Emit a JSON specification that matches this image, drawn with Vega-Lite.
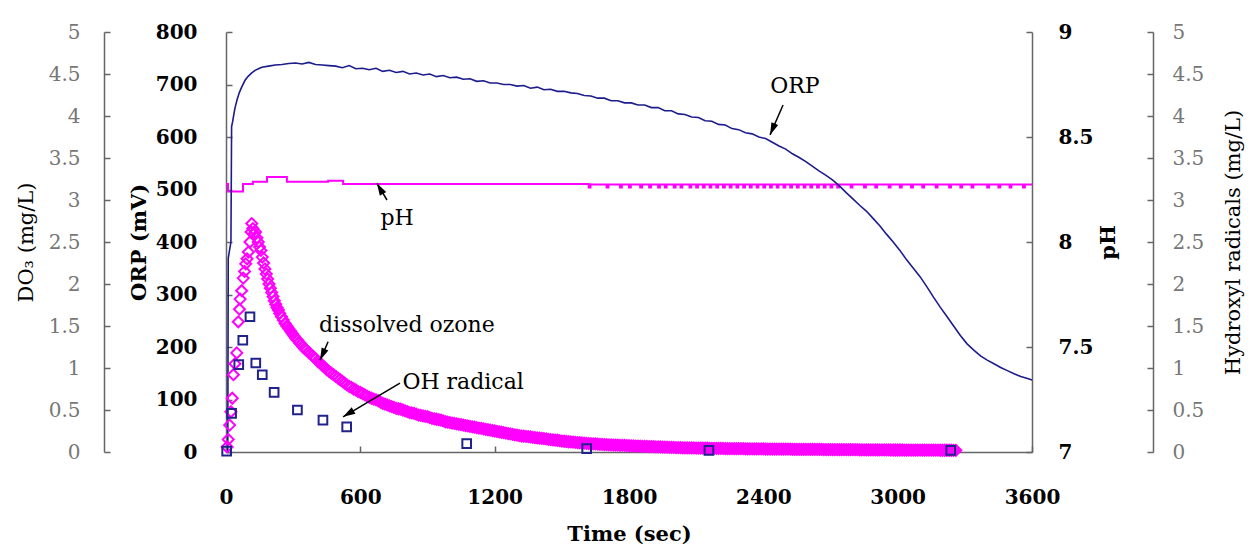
{
  "$schema": "https://vega.github.io/schema/vega-lite/v6.json",
  "width": 806,
  "height": 420,
  "autosize": {"type": "none"},
  "padding": {"left": 226, "top": 32, "right": 217, "bottom": 99},
  "background": "white",
  "config": {
    "view": {"stroke": null},
    "axis": {"grid": false, "labelFont": "DejaVu Serif", "titleFont": "DejaVu Serif", "domainColor": "#666", "tickColor": "#666", "domainWidth": 1.5, "tickWidth": 1.5, "labelColor": "black", "titleColor": "black", "labelFlush": false}
  },
  "datasets": {
    "orp": [
      {"t":0,"mv":0},{"t":8,"mv":0},{"t":10,"mv":369},{"t":22,"mv":400},{"t":25,"mv":620},{"t":30,"mv":630},{"t":35,"mv":643},{"t":40,"mv":655},{"t":50,"mv":672},{"t":60,"mv":685},{"t":70,"mv":695},{"t":85,"mv":708},{"t":100,"mv":716},{"t":115,"mv":722},{"t":130,"mv":727},{"t":145,"mv":730},{"t":160,"mv":733},{"t":190,"mv":735},{"t":220,"mv":737},{"t":250,"mv":738},{"t":280,"mv":740},{"t":310,"mv":741},{"t":340,"mv":739},{"t":370,"mv":742},{"t":400,"mv":738},{"t":430,"mv":737},{"t":460,"mv":736},
      {"t":490,"mv":735},{"t":520,"mv":732},{"t":550,"mv":736},{"t":580,"mv":730},{"t":610,"mv":731},{"t":640,"mv":728},{"t":670,"mv":731},{"t":700,"mv":725},{"t":730,"mv":727},{"t":760,"mv":723},{"t":790,"mv":725},{"t":820,"mv":720},{"t":850,"mv":722},{"t":880,"mv":718},{"t":910,"mv":720},{"t":940,"mv":715},{"t":970,"mv":717},{"t":1000,"mv":713},{"t":1030,"mv":714},{"t":1060,"mv":710},{"t":1090,"mv":711},{"t":1120,"mv":706},{"t":1150,"mv":707},{"t":1180,"mv":703},{"t":1210,"mv":703},{"t":1240,"mv":700},{"t":1270,"mv":700},{"t":1300,"mv":697},{"t":1330,"mv":698},{"t":1360,"mv":693},{"t":1390,"mv":695},{"t":1420,"mv":690},{"t":1450,"mv":691},{"t":1480,"mv":687},{"t":1510,"mv":687},{"t":1540,"mv":684},{"t":1570,"mv":683},{"t":1600,"mv":679},{"t":1630,"mv":678},{"t":1660,"mv":674},{"t":1690,"mv":674},{"t":1720,"mv":669},{"t":1750,"mv":669},{"t":1780,"mv":665},{"t":1810,"mv":665},{"t":1840,"mv":661},{"t":1870,"mv":661},{"t":1900,"mv":656},{"t":1930,"mv":656},{"t":1960,"mv":650},{"t":1990,"mv":650},{"t":2020,"mv":644},{"t":2050,"mv":643},{"t":2080,"mv":638},{"t":2110,"mv":637},{"t":2140,"mv":631},{"t":2170,"mv":630},{"t":2200,"mv":624},{"t":2230,"mv":623},{"t":2260,"mv":616},{"t":2290,"mv":614},{"t":2320,"mv":608},{"t":2350,"mv":606},{"t":2380,"mv":600},{"t":2410,"mv":597},{"t":2440,"mv":590},{"t":2470,"mv":583},{"t":2500,"mv":577},{"t":2530,"mv":568},{"t":2560,"mv":561},{"t":2590,"mv":553},{"t":2620,"mv":544},{"t":2650,"mv":535},{"t":2680,"mv":527},{"t":2710,"mv":518},{"t":2740,"mv":507},{"t":2770,"mv":494},{"t":2800,"mv":482},{"t":2830,"mv":470},{"t":2860,"mv":459},{"t":2890,"mv":445},{"t":2920,"mv":431},{"t":2950,"mv":415},{"t":2980,"mv":400},{"t":3010,"mv":384},{"t":3040,"mv":366},{"t":3070,"mv":350},{"t":3100,"mv":334},{"t":3130,"mv":315},{"t":3160,"mv":295},{"t":3190,"mv":276},{"t":3220,"mv":258},{"t":3250,"mv":240},{"t":3280,"mv":222},{"t":3310,"mv":206},{"t":3340,"mv":194},{"t":3370,"mv":183},{"t":3400,"mv":175},{"t":3430,"mv":168},{"t":3460,"mv":161},{"t":3490,"mv":155},{"t":3520,"mv":149},{"t":3550,"mv":144},{"t":3580,"mv":140},{"t":3600,"mv":137}
    ],
    "ph": [
      {"t":0,"ph":8.276},{"t":9,"ph":8.24},{"t":76,"ph":8.276},{"t":120,"ph":8.287},{"t":183,"ph":8.31},{"t":272,"ph":8.287},{"t":456,"ph":8.292},{"t":523,"ph":8.276},
      {"t":1620,"ph":8.26},{"t":1628,"ph":8.274},{"t":1700,"ph":8.26},{"t":1708,"ph":8.274},{"t":1760,"ph":8.26},{"t":1768,"ph":8.274},{"t":1800,"ph":8.26},{"t":1808,"ph":8.274},{"t":1850,"ph":8.26},{"t":1858,"ph":8.274},{"t":1890,"ph":8.26},{"t":1898,"ph":8.274},{"t":1930,"ph":8.26},{"t":1938,"ph":8.274},{"t":1960,"ph":8.26},{"t":1968,"ph":8.274},{"t":2000,"ph":8.26},{"t":2008,"ph":8.274},{"t":2030,"ph":8.26},{"t":2038,"ph":8.274},{"t":2070,"ph":8.26},{"t":2078,"ph":8.274},{"t":2100,"ph":8.26},{"t":2108,"ph":8.274},{"t":2130,"ph":8.26},{"t":2138,"ph":8.274},{"t":2160,"ph":8.26},{"t":2168,"ph":8.274},{"t":2190,"ph":8.26},{"t":2198,"ph":8.274},{"t":2220,"ph":8.26},{"t":2228,"ph":8.274},{"t":2250,"ph":8.26},{"t":2258,"ph":8.274},{"t":2280,"ph":8.26},{"t":2288,"ph":8.274},{"t":2310,"ph":8.26},{"t":2318,"ph":8.274},{"t":2340,"ph":8.26},{"t":2348,"ph":8.274},{"t":2370,"ph":8.26},{"t":2378,"ph":8.274},{"t":2400,"ph":8.26},{"t":2408,"ph":8.274},{"t":2430,"ph":8.26},{"t":2438,"ph":8.274},{"t":2460,"ph":8.26},{"t":2468,"ph":8.274},{"t":2490,"ph":8.26},{"t":2498,"ph":8.274},{"t":2520,"ph":8.26},{"t":2528,"ph":8.274},{"t":2550,"ph":8.26},{"t":2558,"ph":8.274},{"t":2580,"ph":8.26},{"t":2588,"ph":8.274},{"t":2610,"ph":8.26},{"t":2618,"ph":8.274},{"t":2640,"ph":8.26},{"t":2648,"ph":8.274},{"t":2670,"ph":8.26},{"t":2678,"ph":8.274},{"t":2700,"ph":8.26},{"t":2708,"ph":8.274},{"t":2730,"ph":8.26},{"t":2738,"ph":8.274},{"t":2790,"ph":8.26},{"t":2798,"ph":8.274},{"t":2850,"ph":8.26},{"t":2858,"ph":8.274},{"t":2900,"ph":8.26},{"t":2908,"ph":8.274},{"t":2960,"ph":8.26},{"t":2968,"ph":8.274},{"t":3010,"ph":8.26},{"t":3018,"ph":8.274},{"t":3060,"ph":8.26},{"t":3068,"ph":8.274},{"t":3110,"ph":8.26},{"t":3118,"ph":8.274},{"t":3170,"ph":8.26},{"t":3178,"ph":8.274},{"t":3230,"ph":8.26},{"t":3238,"ph":8.274},{"t":3280,"ph":8.26},{"t":3288,"ph":8.274},{"t":3330,"ph":8.26},{"t":3338,"ph":8.274},{"t":3400,"ph":8.26},{"t":3408,"ph":8.274},{"t":3450,"ph":8.26},{"t":3458,"ph":8.274},{"t":3500,"ph":8.26},{"t":3508,"ph":8.274},{"t":3560,"ph":8.26},{"t":3568,"ph":8.274},{"t":3600,"ph":8.274}
    ],
    "ozone": [
      {"t":5,"do3":0.06},{"t":10,"do3":0.15},{"t":16,"do3":0.32},{"t":22,"do3":0.48},{"t":28,"do3":0.64},{"t":33,"do3":0.92},{"t":40,"do3":1.05},{"t":48,"do3":1.18},{"t":55,"do3":1.55},{"t":60,"do3":1.7},{"t":63,"do3":1.82},{"t":70,"do3":1.92},{"t":77,"do3":2.07},{"t":83,"do3":2.15},{"t":88,"do3":2.24},{"t":94,"do3":2.3},{"t":100,"do3":2.38},{"t":107,"do3":2.5},{"t":112,"do3":2.62},{"t":115,"do3":2.72},{"t":120,"do3":2.66},{"t":126,"do3":2.6},{"t":132,"do3":2.62},{"t":138,"do3":2.55},{"t":144,"do3":2.5},{"t":150,"do3":2.44},{"t":156,"do3":2.4},{"t":162,"do3":2.32},{"t":168,"do3":2.25},{"t":174,"do3":2.18},{"t":180,"do3":2.12},{"t":186,"do3":2.06},{"t":192,"do3":2.0},{"t":198,"do3":1.95},{"t":204,"do3":1.9},{"t":210,"do3":1.85},{"t":216,"do3":1.8},{"t":222,"do3":1.76},{"t":228,"do3":1.72},{"t":234,"do3":1.69},{"t":240,"do3":1.65},{"t":248,"do3":1.61},{"t":256,"do3":1.57},{"t":264,"do3":1.53},{"t":272,"do3":1.5},{"t":280,"do3":1.47},{"t":288,"do3":1.44},{"t":296,"do3":1.41},{"t":304,"do3":1.38},{"t":312,"do3":1.35},{"t":320,"do3":1.33},{"t":328,"do3":1.3},{"t":336,"do3":1.28},{"t":344,"do3":1.25},{"t":352,"do3":1.23},{"t":360,"do3":1.21},{"t":368,"do3":1.19},{"t":376,"do3":1.17},{"t":384,"do3":1.15},{"t":392,"do3":1.13},
      {"t":400,"do3":1.11},{"t":410,"do3":1.08},{"t":420,"do3":1.06},{"t":430,"do3":1.03},{"t":440,"do3":1.01},{"t":450,"do3":0.98},{"t":460,"do3":0.96},{"t":470,"do3":0.94},{"t":480,"do3":0.92},{"t":490,"do3":0.9},{"t":500,"do3":0.88},{"t":510,"do3":0.86},{"t":520,"do3":0.84},{"t":530,"do3":0.82},{"t":540,"do3":0.8},{"t":550,"do3":0.78},{"t":560,"do3":0.77},{"t":570,"do3":0.75},{"t":580,"do3":0.74},{"t":590,"do3":0.72},{"t":600,"do3":0.71},
      {"t":610,"do3":0.695},{"t":620,"do3":0.68},{"t":630,"do3":0.665},{"t":640,"do3":0.65},{"t":650,"do3":0.64},{"t":660,"do3":0.63},{"t":670,"do3":0.62},{"t":680,"do3":0.61},{"t":690,"do3":0.595},{"t":700,"do3":0.58},{"t":710,"do3":0.57},{"t":720,"do3":0.56},{"t":730,"do3":0.55},{"t":740,"do3":0.54},{"t":750,"do3":0.53},{"t":760,"do3":0.52},{"t":770,"do3":0.515},{"t":780,"do3":0.51},{"t":790,"do3":0.5},{"t":800,"do3":0.49},{"t":810,"do3":0.48},{"t":820,"do3":0.47},{"t":830,"do3":0.465},{"t":840,"do3":0.46},{"t":850,"do3":0.45},{"t":860,"do3":0.44},{"t":870,"do3":0.435},{"t":880,"do3":0.43},{"t":890,"do3":0.425},{"t":900,"do3":0.42},{"t":910,"do3":0.41},{"t":920,"do3":0.4},{"t":930,"do3":0.395},{"t":940,"do3":0.39},{"t":950,"do3":0.385},{"t":960,"do3":0.38},{"t":970,"do3":0.37},{"t":980,"do3":0.36},{"t":990,"do3":0.355},{"t":1000,"do3":0.35},
      {"t":1010,"do3":0.345},{"t":1020,"do3":0.34},{"t":1030,"do3":0.335},{"t":1040,"do3":0.33},{"t":1050,"do3":0.325},{"t":1060,"do3":0.32},{"t":1070,"do3":0.315},{"t":1080,"do3":0.31},{"t":1090,"do3":0.305},{"t":1100,"do3":0.3},{"t":1110,"do3":0.295},{"t":1120,"do3":0.29},{"t":1130,"do3":0.285},{"t":1140,"do3":0.28},{"t":1150,"do3":0.275},{"t":1160,"do3":0.27},{"t":1170,"do3":0.265},{"t":1180,"do3":0.26},{"t":1190,"do3":0.255},{"t":1200,"do3":0.25},{"t":1210,"do3":0.245},{"t":1220,"do3":0.24},{"t":1230,"do3":0.235},{"t":1240,"do3":0.23},{"t":1250,"do3":0.225},{"t":1260,"do3":0.22},{"t":1270,"do3":0.215},{"t":1280,"do3":0.21},{"t":1290,"do3":0.205},{"t":1300,"do3":0.2},{"t":1310,"do3":0.195},{"t":1320,"do3":0.19},{"t":1330,"do3":0.188},{"t":1340,"do3":0.185},{"t":1350,"do3":0.182},{"t":1360,"do3":0.18},{"t":1370,"do3":0.175},{"t":1380,"do3":0.17},{"t":1390,"do3":0.168},{"t":1400,"do3":0.165},{"t":1410,"do3":0.162},{"t":1420,"do3":0.16},{"t":1430,"do3":0.155},{"t":1440,"do3":0.15},{"t":1450,"do3":0.148},{"t":1460,"do3":0.145},{"t":1470,"do3":0.142},{"t":1480,"do3":0.14},{"t":1490,"do3":0.135},{"t":1500,"do3":0.13},{"t":1510,"do3":0.128},{"t":1520,"do3":0.125},{"t":1530,"do3":0.122},{"t":1540,"do3":0.12},{"t":1550,"do3":0.118},{"t":1560,"do3":0.115},{"t":1570,"do3":0.112},{"t":1580,"do3":0.11},{"t":1590,"do3":0.108},{"t":1600,"do3":0.105},{"t":1610,"do3":0.102},{"t":1620,"do3":0.1},{"t":1630,"do3":0.099},{"t":1640,"do3":0.098},{"t":1650,"do3":0.096},{"t":1660,"do3":0.095},{"t":1670,"do3":0.092},{"t":1680,"do3":0.09},{"t":1690,"do3":0.089},{"t":1700,"do3":0.088},{"t":1710,"do3":0.086},{"t":1720,"do3":0.085},{"t":1730,"do3":0.083},{"t":1740,"do3":0.082},{"t":1750,"do3":0.081},{"t":1760,"do3":0.08},{"t":1770,"do3":0.079},{"t":1780,"do3":0.078},{"t":1790,"do3":0.076},{"t":1800,"do3":0.075},{"t":1810,"do3":0.073},{"t":1820,"do3":0.072},{"t":1830,"do3":0.071},{"t":1840,"do3":0.07},{"t":1850,"do3":0.069},{"t":1860,"do3":0.068},{"t":1870,"do3":0.067},{"t":1880,"do3":0.066},{"t":1890,"do3":0.065},{"t":1900,"do3":0.064},{"t":1910,"do3":0.063},{"t":1920,"do3":0.062},{"t":1930,"do3":0.061},{"t":1940,"do3":0.06},{"t":1950,"do3":0.059},{"t":1960,"do3":0.058},{"t":1970,"do3":0.057},{"t":1980,"do3":0.056},{"t":1990,"do3":0.055},{"t":2000,"do3":0.054},
      {"t":2010,"do3":0.053},{"t":2020,"do3":0.052},{"t":2030,"do3":0.051},{"t":2040,"do3":0.05},{"t":2050,"do3":0.05},{"t":2060,"do3":0.049},{"t":2070,"do3":0.049},{"t":2080,"do3":0.048},{"t":2090,"do3":0.048},{"t":2100,"do3":0.047},{"t":2110,"do3":0.047},{"t":2120,"do3":0.046},{"t":2130,"do3":0.046},{"t":2140,"do3":0.045},{"t":2150,"do3":0.045},{"t":2160,"do3":0.044},{"t":2170,"do3":0.044},{"t":2180,"do3":0.043},{"t":2190,"do3":0.043},{"t":2200,"do3":0.042},{"t":2210,"do3":0.042},{"t":2220,"do3":0.042},{"t":2230,"do3":0.041},{"t":2240,"do3":0.041},{"t":2250,"do3":0.041},{"t":2260,"do3":0.04},{"t":2270,"do3":0.04},{"t":2280,"do3":0.04},{"t":2290,"do3":0.039},{"t":2300,"do3":0.039},{"t":2310,"do3":0.039},{"t":2320,"do3":0.038},{"t":2330,"do3":0.038},{"t":2340,"do3":0.038},{"t":2350,"do3":0.037},{"t":2360,"do3":0.037},{"t":2370,"do3":0.037},{"t":2380,"do3":0.036},{"t":2390,"do3":0.036},{"t":2400,"do3":0.036},{"t":2410,"do3":0.035},{"t":2420,"do3":0.035},{"t":2430,"do3":0.035},{"t":2440,"do3":0.035},{"t":2450,"do3":0.034},{"t":2460,"do3":0.034},{"t":2470,"do3":0.034},{"t":2480,"do3":0.034},{"t":2490,"do3":0.033},{"t":2500,"do3":0.033},{"t":2510,"do3":0.033},{"t":2520,"do3":0.033},{"t":2530,"do3":0.032},{"t":2540,"do3":0.032},{"t":2550,"do3":0.032},{"t":2560,"do3":0.032},{"t":2570,"do3":0.031},{"t":2580,"do3":0.031},{"t":2590,"do3":0.031},{"t":2600,"do3":0.031},{"t":2610,"do3":0.03},{"t":2620,"do3":0.03},{"t":2630,"do3":0.03},{"t":2640,"do3":0.03},{"t":2650,"do3":0.03},{"t":2660,"do3":0.03},{"t":2670,"do3":0.029},{"t":2680,"do3":0.029},{"t":2690,"do3":0.029},{"t":2700,"do3":0.029},{"t":2710,"do3":0.028},{"t":2720,"do3":0.028},{"t":2730,"do3":0.028},{"t":2740,"do3":0.028},{"t":2750,"do3":0.028},{"t":2760,"do3":0.028},{"t":2770,"do3":0.027},{"t":2780,"do3":0.027},{"t":2790,"do3":0.027},{"t":2800,"do3":0.027},{"t":2810,"do3":0.027},{"t":2820,"do3":0.027},{"t":2830,"do3":0.026},{"t":2840,"do3":0.026},{"t":2850,"do3":0.026},{"t":2860,"do3":0.026},{"t":2870,"do3":0.026},{"t":2880,"do3":0.026},{"t":2890,"do3":0.025},{"t":2900,"do3":0.025},{"t":2910,"do3":0.025},{"t":2920,"do3":0.025},{"t":2930,"do3":0.025},{"t":2940,"do3":0.025},{"t":2950,"do3":0.025},{"t":2960,"do3":0.025},{"t":2970,"do3":0.024},{"t":2980,"do3":0.024},{"t":2990,"do3":0.024},{"t":3000,"do3":0.024},{"t":3010,"do3":0.024},{"t":3020,"do3":0.024},{"t":3030,"do3":0.023},{"t":3040,"do3":0.023},{"t":3050,"do3":0.023},{"t":3060,"do3":0.023},{"t":3070,"do3":0.023},{"t":3080,"do3":0.023},{"t":3090,"do3":0.023},{"t":3100,"do3":0.023},{"t":3110,"do3":0.022},{"t":3120,"do3":0.022},{"t":3130,"do3":0.022},{"t":3140,"do3":0.022},{"t":3150,"do3":0.022},{"t":3160,"do3":0.022},{"t":3170,"do3":0.022},{"t":3180,"do3":0.022},{"t":3190,"do3":0.021},{"t":3200,"do3":0.021},{"t":3210,"do3":0.021},{"t":3220,"do3":0.021},{"t":3230,"do3":0.021},{"t":3240,"do3":0.021},{"t":3250,"do3":0.02},{"t":3260,"do3":0.02}
    ],
    "oh": [
      {"t":3,"oh":0.01},{"t":25,"oh":0.46},{"t":57,"oh":1.04},{"t":75,"oh":1.33},{"t":107,"oh":1.61},{"t":133,"oh":1.06},{"t":162,"oh":0.92},{"t":215,"oh":0.71},{"t":319,"oh":0.5},{"t":433,"oh":0.38},{"t":539,"oh":0.3},{"t":1075,"oh":0.1},{"t":1611,"oh":0.04},{"t":2157,"oh":0.02},{"t":3237,"oh":0.02}
    ],
    "labels": [
      {"label":"ORP","t":2541,"mv":697},{"label":"pH","t":764,"mv":446},{"label":"dissolved ozone","t":808,"mv":242},{"label":"OH radical","t":1059,"mv":133}
    ],
    "arrows": [
      {"name":"ORP","t":2430,"mv":604,"t2":2488,"mv2":661},{"name":"pH","t":674,"mv":512,"t2":719,"mv2":480},{"name":"ozone","t":420,"mv":175,"t2":456,"mv2":210},{"name":"OH","t":523,"mv":67,"t2":777,"mv2":131}
    ]
  },
  "encoding": {
    "x": {"field": "t", "type": "quantitative", "scale": {"domain": [0, 3600], "nice": false},
      "axis": {"values": [0, 600, 1200, 1800, 2400, 3000, 3600], "format": "d", "tickSize": -6, "labelPadding": 41, "labelFontSize": 20, "labelFontWeight": "bold", "title": "Time (sec)", "titleFontSize": 21, "titleFontWeight": "bold", "titlePadding": 16}}
  },
  "layer": [
    {
      "data": {"name": "ph"},
      "mark": {"type": "line", "interpolate": "step-after", "color": "#ff00ff", "strokeWidth": 2},
      "encoding": {"y": {"field": "ph", "type": "quantitative", "scale": {"domain": [7, 9], "nice": false, "zero": false},
        "axis": {"orient": "right", "values": [7, 7.5, 8, 8.5, 9], "format": "~g", "tickSize": -6, "labelPadding": 32, "labelFontSize": 20, "labelFontWeight": "bold", "title": "pH", "titleAngle": 270, "titleFontSize": 21, "titleFontWeight": "bold", "titlePadding": 26}}}
    },
    {
      "data": {"name": "orp"},
      "mark": {"type": "line", "color": "#1c1c8c", "strokeWidth": 1.6},
      "encoding": {"y": {"field": "mv", "type": "quantitative", "scale": {"domain": [0, 800], "nice": false},
        "axis": {"orient": "left", "values": [0, 100, 200, 300, 400, 500, 600, 700, 800], "tickSize": -6, "labelPadding": 35, "labelFontSize": 20, "labelFontWeight": "bold", "title": "ORP (mV)", "titleFontSize": 21, "titleFontWeight": "bold", "titlePadding": 6}}}
    },
    {
      "data": {"name": "ozone"},
      "mark": {"type": "point", "shape": "diamond", "filled": false, "color": "#ff00ff", "strokeWidth": 2, "size": 120, "opacity": 1},
      "encoding": {"y": {"field": "do3", "type": "quantitative", "scale": {"domain": [0, 5], "nice": false},
        "axis": {"orient": "left", "offset": 122, "values": [0, 0.5, 1, 1.5, 2, 2.5, 3, 3.5, 4, 4.5, 5], "format": "~g", "tickSize": -6, "labelPadding": 30, "labelFontSize": 20, "labelColor": "#777", "title": "DO₃ (mg/L)", "titleFontSize": 21, "titleFontWeight": "normal", "titlePadding": 12}}}
    },
    {
      "data": {"name": "oh"},
      "mark": {"type": "point", "shape": "square", "filled": false, "color": "#22228c", "strokeWidth": 2, "size": 75, "opacity": 1},
      "encoding": {"y": {"field": "oh", "type": "quantitative", "scale": {"domain": [0, 5], "nice": false},
        "axis": {"orient": "right", "offset": 121, "values": [0, 0.5, 1, 1.5, 2, 2.5, 3, 3.5, 4, 4.5, 5], "format": "~g", "tickSize": -6, "labelPadding": 25, "labelFontSize": 20, "labelColor": "#777", "title": "Hydroxyl radicals (mg/L)", "titleAngle": 270, "titleFontSize": 21, "titleFontWeight": "normal", "titlePadding": 40}}}
    },
    {
      "data": {"name": "arrows"},
      "mark": {"type": "rule", "color": "black", "strokeWidth": 1.5},
      "encoding": {"y": {"field": "mv", "type": "quantitative", "scale": {"domain": [0, 800], "nice": false}, "axis": null}, "x2": {"field": "t2"}, "y2": {"field": "mv2"}}
    },
    {
      "data": {"name": "arrows"},
      "transform": [{"filter": "datum.name == 'ORP'"}],
      "mark": {"type": "point", "shape": "M0,0L0.6,2L-0.6,2Z", "filled": true, "color": "black", "opacity": 1, "size": 150, "angle": 203},
      "encoding": {"y": {"field": "mv", "type": "quantitative", "scale": {"domain": [0, 800], "nice": false}, "axis": null}}
    },
    {
      "data": {"name": "arrows"},
      "transform": [{"filter": "datum.name == 'pH'"}],
      "mark": {"type": "point", "shape": "M0,0L0.6,2L-0.6,2Z", "filled": true, "color": "black", "opacity": 1, "size": 150, "angle": 330},
      "encoding": {"y": {"field": "mv", "type": "quantitative", "scale": {"domain": [0, 800], "nice": false}, "axis": null}}
    },
    {
      "data": {"name": "arrows"},
      "transform": [{"filter": "datum.name == 'ozone'"}],
      "mark": {"type": "point", "shape": "M0,0L0.6,2L-0.6,2Z", "filled": true, "color": "black", "opacity": 1, "size": 150, "angle": 204},
      "encoding": {"y": {"field": "mv", "type": "quantitative", "scale": {"domain": [0, 800], "nice": false}, "axis": null}}
    },
    {
      "data": {"name": "arrows"},
      "transform": [{"filter": "datum.name == 'OH'"}],
      "mark": {"type": "point", "shape": "M0,0L0.6,2L-0.6,2Z", "filled": true, "color": "black", "opacity": 1, "size": 150, "angle": 239},
      "encoding": {"y": {"field": "mv", "type": "quantitative", "scale": {"domain": [0, 800], "nice": false}, "axis": null}}
    },
    {
      "data": {"name": "labels"},
      "mark": {"type": "text", "font": "DejaVu Serif", "fontSize": 22, "color": "black", "align": "center", "baseline": "middle"},
      "encoding": {"y": {"field": "mv", "type": "quantitative", "scale": {"domain": [0, 800], "nice": false}, "axis": null}, "text": {"field": "label"}}
    }
  ],
  "resolve": {"scale": {"y": "independent"}, "axis": {"y": "independent"}}
}
